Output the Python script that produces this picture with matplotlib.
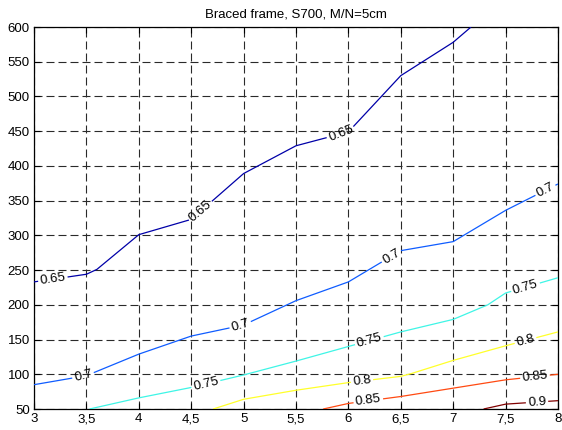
import numpy as np
import matplotlib
matplotlib.use("Agg")
import matplotlib.pyplot as plt

# ---- data ----
levels = [0.65, 0.70, 0.75, 0.80, 0.85, 0.90]
level_labels = ["0.65", "0.7", "0.75", "0.8", "0.85", "0.9"]
colors = ["#0000a8", "#0f5cff", "#3ff5e6", "#ffff2a", "#ff4a12", "#800000"]

x_065 = [3.0, 3.5, 3.6, 4.0, 4.5, 5.0, 5.5, 6.0, 6.5, 7.0, 7.17]
y_065 = [233, 244, 251, 301, 323, 389, 429, 449, 530, 578, 600]

x_070 = [3.0, 3.5, 4.0, 4.5, 5.0, 5.5, 6.0, 6.5, 7.0, 7.5, 8.0]
y_070 = [85, 98, 129, 155, 171, 206, 233, 278, 291, 336, 374]

x_075 = [3.53, 4.0, 4.5, 5.0, 5.5, 6.0, 6.5, 7.0, 7.33, 7.5, 8.0]
y_075 = [50, 66, 81, 99, 119, 140, 161, 179, 200, 217, 239]

x_080 = [4.71, 5.0, 5.5, 6.0, 6.5, 6.6, 7.0, 7.5, 8.0]
y_080 = [50, 64, 77, 88, 97, 101, 120, 141, 161]

x_085 = [5.76, 6.0, 6.5, 7.0, 7.5, 8.0]
y_085 = [50, 58, 68, 80, 92, 100]

x_090 = [7.29, 7.5, 8.0]
y_090 = [50, 57, 62]

xs = [x_065, x_070, x_075, x_080, x_085, x_090]
ys = [y_065, y_070, y_075, y_080, y_085, y_090]

# x positions where inline labels sit on each contour
label_x = [
    [3.18, 4.59, 5.93],
    [3.47, 4.97, 6.41, 7.88],
    [4.64, 6.20, 7.69],
    [6.13, 7.69],
    [6.19, 7.78],
    [7.80],
]

xticks = [3, 3.5, 4, 4.5, 5, 5.5, 6, 6.5, 7, 7.5, 8]
xtick_labels = ["3", "3,5", "4", "4,5", "5", "5,5", "6", "6,5", "7", "7,5", "8"]
yticks = [50, 100, 150, 200, 250, 300, 350, 400, 450, 500, 550, 600]
title = "Braced frame, S700, M/N=5cm"

FS = 9.5

# ---- figure ----
plt.rcParams["font.family"] = ["Liberation Sans", "DejaVu Sans"]
fig = plt.figure(figsize=(5.62, 4.30), dpi=100)
ax = fig.add_axes([34 / 562, 21 / 430, 524 / 562, 382 / 430])
ax.set_xlim(3, 8)
ax.set_ylim(50, 600)
ax.set_xticks(xticks)
ax.set_xticklabels(xtick_labels)
ax.set_yticks(yticks)
ax.tick_params(direction="in", length=4, width=0.8, top=True, right=True,
               labelsize=FS, pad=3, colors="black")
for sp in ax.spines.values():
    sp.set_linewidth(0.9)
ax.grid(True, color="#2a2a2a", linewidth=0.8, linestyle=(0, (7.2, 3.6)))
ax.set_axisbelow(True)
ax.set_title(title, fontsize=FS, pad=7)

fig.canvas.draw()
renderer = fig.canvas.get_renderer()
to_disp = ax.transData
to_data = ax.transData.inverted()


def point_at(s, cum, P):
    return np.array([np.interp(s, cum, P[:, 0]), np.interp(s, cum, P[:, 1])])


for lx, xv, yv, col, lab in zip(label_x, xs, ys, colors, level_labels):
    P = to_disp.transform(np.column_stack([xv, yv]))
    seg = np.hypot(np.diff(P[:, 0]), np.diff(P[:, 1]))
    cum = np.concatenate([[0], np.cumsum(seg)])
    # measure label width
    t = ax.text(0, 0, lab, fontsize=FS)
    w = t.get_window_extent(renderer).width
    t.remove()
    gaps = []
    for x0 in lx:
        s0 = np.interp(x0, xv, cum)
        a = point_at(s0 - w / 2, cum, P)
        b = point_at(s0 + w / 2, cum, P)
        c = point_at(s0, cum, P)
        ang = np.degrees(np.arctan2(b[1] - a[1], b[0] - a[0]))
        cd = to_data.transform(c)
        ax.text(cd[0], cd[1], lab, fontsize=FS, rotation=ang,
                rotation_mode="anchor", ha="center", va="center",
                color="black", clip_on=False, zorder=5)
        gaps.append((s0 - w / 2 - 2, s0 + w / 2 + 2))
    # split line into visible pieces
    bounds = [0.0]
    for g0, g1 in sorted(gaps):
        bounds += [g0, g1]
    bounds.append(cum[-1])
    for k in range(0, len(bounds), 2):
        s_a, s_b = bounds[k], bounds[k + 1]
        if s_b <= s_a:
            continue
        inner = [i for i in range(len(cum)) if s_a < cum[i] < s_b]
        pts = [point_at(s_a, cum, P)] + [P[i] for i in inner] + [point_at(s_b, cum, P)]
        D = to_data.transform(np.array(pts))
        ax.plot(D[:, 0], D[:, 1], color=col, linewidth=0.9, zorder=3,
                solid_capstyle="butt")

fig.savefig("out.png", dpi=100)
